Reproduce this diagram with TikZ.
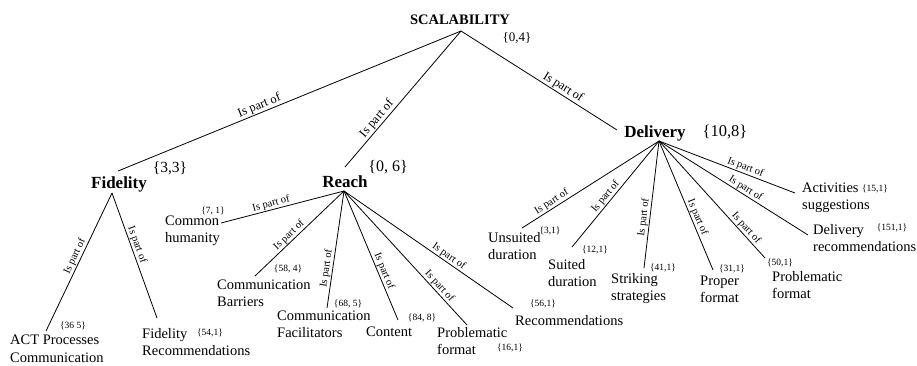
\documentclass[tikz,border=0pt]{standalone}
\usepackage{fontspec}
\setmainfont{Liberation Serif}
\begin{document}
\begin{tikzpicture}[x=1pt,y=-1pt,
  title/.style={font=\fontsize{17}{20}\selectfont\bfseries, inner sep=0pt, anchor=base},
  item/.style={font=\fontsize{14.5}{17.5}\selectfont, inner sep=0pt, align=left, anchor=base west},
  big/.style={font=\fontsize{15.5}{18}\selectfont, inner sep=0pt},
  small/.style={font=\fontsize{9.5}{11}\selectfont, inner sep=0pt},
  rel/.style={font=\fontsize{10.5}{12}\selectfont, sloped, above, inner sep=0.8pt},
  toprel/.style={rel, font=\fontsize{12.5}{14}\selectfont},
  edge/.style={line width=0.8pt}]
\useasboundingbox (0,0) rectangle (917,365);

% titles
\node[title, font=\fontsize{14.5}{17}\selectfont\bfseries] (scal) at (460,24) {SCALABILITY};
\node[title] (fid) at (119,188) {Fidelity};
\node[title] (reach) at (345,187) {Reach};
\node[title] (deliv) at (655,137) {Delivery};

% counts of titles
\node[big, font=\fontsize{13}{15}\selectfont] (nscal) at (517,38) {\{0,4\}};
\node[big] (nfid) at (170,168) {\{3,3\}};
\node[big, font=\fontsize{16}{18}\selectfont] (nreach) at (388,167) {\{0, 6\}};
\node[big, font=\fontsize{16.5}{18}\selectfont] (ndeliv) at (725,132) {\{10,8\}};

% leaf texts (base = baseline of the last line)
\node[item] (act) at (10,362) {ACT Processes\\Communication};
\node[item] (fidrec) at (142,355.5) {Fidelity\\Recommendations};
\node[item] (ch) at (165,242.5) {Common\\humanity};
\node[item] (cb) at (217,306.5) {Communication\\Barriers};
\node[item] (cf) at (277,337.5) {Communication\\Facilitators};
\node[item] (co) at (366,336) {Content};
\node[item] (pf) at (437,354.5) {Problematic\\format};
\node[item] (rec) at (515,325) {Recommendations};
\node[item] (ud) at (488,259.5) {Unsuited\\duration};
\node[item] (sd) at (548,286.5) {Suited\\duration};
\node[item] (ss) at (611,300.5) {Striking\\strategies};
\node[item] (pr) at (700,302.5) {Proper\\format};
\node[item] (pfd) at (772,298.5) {Problematic\\format};
\node[item] (dr) at (813,251.5) {Delivery\\recommendations};
\node[item] (as) at (802,209.5) {Activities\\suggestions};

% leaf counts
\node[small] (nact) at (73,326) {\{36 5\}};
\node[small] (nfidrec) at (210,333) {\{54,1\}};
\node[small] (nch) at (213,211) {\{7, 1\}};
\node[small] (ncb) at (288,269) {\{58, 4\}};
\node[small] (ncf) at (348,304) {\{68, 5\}};
\node[small] (nco) at (422,318) {\{84, 8\}};
\node[small] (npf) at (510,348) {\{16,1\}};
\node[small] (nrec) at (543,304) {\{56,1\}};
\node[small] (nud) at (550,231) {\{3,1\}};
\node[small] (nsd) at (595,250) {\{12,1\}};
\node[small] (nss) at (663,268) {\{41,1\}};
\node[small] (npr) at (732,269) {\{31,1\}};
\node[small] (npfd) at (780,263) {\{50,1\}};
\node[small] (ndr) at (892,228) {\{151,1\}};
\node[small] (nas) at (875,189) {\{15,1\}};

% connection points
\coordinate (sA) at (461,31);
\coordinate (fT) at (118,171);
\coordinate (rT) at (345,167);
\coordinate (dT) at (617,130);
\coordinate (fA) at (112,193);
\coordinate (rA) at (344,191);
\coordinate (dA) at (659,141);
\coordinate (actE) at (46,331);
\coordinate (fidrecE) at (157,318);
\coordinate (chE) at (221,223);
\coordinate (cbE) at (255,276);
\coordinate (cfE) at (327,308);
\coordinate (coE) at (398,320);
\coordinate (pfE) at (467,325);
\coordinate (recE) at (513,308);
\coordinate (udE) at (522,228);
\coordinate (sdE) at (572,247);
\coordinate (ssE) at (644,268);
\coordinate (prE) at (713,270);
\coordinate (pfdE) at (765,258);
\coordinate (drE) at (808,235);
\coordinate (asE) at (795,193);

% connectors
\draw[edge] (sA) -- node[toprel, pos=0.58] {Is part of} (fT);
\draw[edge] (sA) -- node[toprel, pos=0.68] {Is part of} (rT);
\draw[edge] (sA) -- node[toprel, pos=0.63] {Is part of} (dT);

\draw[edge] (fA) -- node[rel, pos=0.48] {Is part of} (actE);
\draw[edge] (fA) -- node[rel, pos=0.43] {Is part of} (fidrecE);

\draw[edge] (rA) -- node[rel, pos=0.58] {Is part of} (chE);
\draw[edge] (rA) -- node[rel, pos=0.57] {Is part of} (cbE);
\draw[edge] (rA) -- node[rel, pos=0.67] {Is part of} (cfE);
\draw[edge] (rA) -- node[rel, pos=0.64] {Is part of} (coE);
\draw[edge] (rA) -- node[rel, pos=0.74] {Is part of} (pfE);
\draw[edge] (rA) -- node[rel, pos=0.60] {Is part of} (recE);

\draw[edge] (dA) -- node[rel, pos=0.76] {Is part of} (udE);
\draw[edge] (dA) -- node[rel, pos=0.56] {Is part of} (sdE);
\draw[edge] (dA) -- node[rel, pos=0.61] {Is part of} (ssE);
\draw[edge] (dA) -- node[rel, pos=0.61] {Is part of} (prE);
\draw[edge] (dA) -- node[rel, pos=0.78] {Is part of} (pfdE);
\draw[edge] (dA) -- node[rel, pos=0.56] {Is part of} (drE);
\draw[edge] (dA) -- node[rel, pos=0.62] {Is part of} (asE);
\end{tikzpicture}
\end{document}
